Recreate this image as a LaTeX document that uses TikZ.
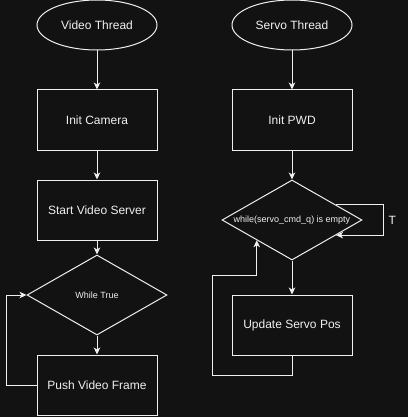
\documentclass[tikz,border=0pt]{standalone}
\usepackage{fontspec}
\setmainfont{Liberation Sans}
\usetikzlibrary{arrows.meta,positioning,shapes.geometric,calc}
\definecolor{bgdark}{HTML}{121212}
\definecolor{inkgray}{HTML}{F0F0F0}

\begin{document}
\begin{tikzpicture}[x=1pt, y=-1pt,
        every node/.style={font=\fontsize{12}{14}\selectfont, text=inkgray},
        blk/.style={draw=inkgray, line width=1pt, minimum width=120pt, minimum height=60pt,
                inner sep=2pt},
        term/.style={ellipse, draw=inkgray, line width=1pt, minimum width=120pt,
                minimum height=50pt, inner sep=1pt},
        dec/.style={diamond, draw=inkgray, line width=1pt, minimum width=140pt,
                minimum height=80pt, inner sep=0pt},
        dtxt/.style={font=\fontsize{9}{11}\selectfont, inner sep=0pt},
        sig/.style={-{Stealth[length=7pt, width=6.5pt, inset=2pt]}, line width=1pt, draw=inkgray}
    ]
    \path[use as bounding box, fill=bgdark] (0,0) rectangle (408,417);

    % ================= video thread (x = 97) =================
    \node[term] (vid)   at (97,25)  {Video Thread};
    \node[blk]  (cam)   at (97,120) {Init Camera};
    \node[blk]  (vsrv)  at (97,210) {Start Video Server};
    \node[dec, label={[dtxt]center:While True}] (vloop) at (97,295) {};
    \node[blk]  (push)  at (97,385) {Push Video Frame};

    \draw[sig] (vid) -- (cam);
    \draw[sig] (cam) -- (vsrv);
    \draw[sig] (vsrv) -- (vloop);
    \draw[sig] (vloop) -- (push);
    \draw[sig] (push.west) -- ++(-30,0) |- (vloop.west);

    % ================= servo thread (x = 292) =================
    \node[term] (servo) at (292,25)  {Servo Thread};
    \node[blk]  (pwd)   at (292,120) {Init PWD};
    \node[dec, label={[dtxt]center:while(servo\_cmd\_q) is empty}] (wait) at (292,220) {};
    \node[blk]  (upd)   at (292,325) {Update Servo Pos};

    \draw[sig] (servo) -- (pwd);
    \draw[sig] (pwd) -- (wait);
    \draw[sig] (wait) -- (upd);

    % queue still empty: back into the check
    \draw[sig] ($(wait.east)!0.375!(wait.north)$) -- ++(47,0)
        |- node[pos=0.25, right, inner sep=5pt] {T} ($(wait.east)!0.375!(wait.south)$);

    % after the update: back to the check
    \draw[sig] (upd.south) -- ++(0,20) -- ++(-80,0) -- ++(0,-100)
        -| ($(wait.west)!0.5!(wait.south)$);

\end{tikzpicture}
\end{document}
